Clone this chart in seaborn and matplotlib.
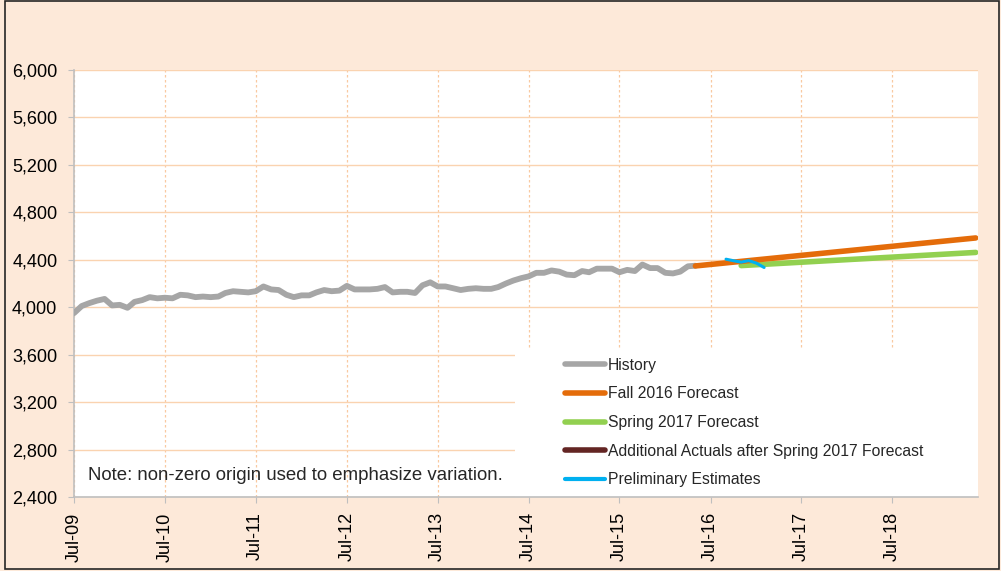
import pandas as pd
import matplotlib
matplotlib.use('Agg')
import matplotlib.pyplot as plt
import matplotlib.dates as mdates
from matplotlib.lines import Line2D
from matplotlib.patches import Rectangle
from matplotlib.ticker import FuncFormatter
import seaborn as sns

# history, monthly from Jul-09 to May-16
history_start = '2009-07-01'
history_values = [
    3950, 4010, 4035, 4055, 4070, 4015, 4020, 3995, 4045, 4060, 4085, 4075,
    4080, 4075, 4105, 4100, 4085, 4090, 4085, 4090, 4120, 4135, 4130, 4125,
    4135, 4175, 4150, 4145, 4105, 4085, 4100, 4100, 4125, 4145, 4135, 4140,
    4180, 4150, 4150, 4150, 4155, 4170, 4125, 4130, 4130, 4120, 4185, 4210,
    4175, 4175, 4160, 4145, 4155, 4160, 4155, 4155, 4170, 4200, 4225, 4245,
    4260, 4290, 4290, 4310, 4300, 4275, 4270, 4305, 4295, 4325, 4325, 4325,
    4295, 4315, 4305, 4360, 4330, 4330, 4290, 4285, 4300, 4345, 4350,
]

fall16_dates = ['2016-05-01', '2019-06-01']
fall16_values = [4348, 4584]

spring17_dates = ['2016-11-01', '2019-06-01']
spring17_values = [4351, 4462]

prelim_dates = ['2016-09-01', '2016-10-01', '2016-11-01', '2016-12-01', '2017-01-01', '2017-02-01']
prelim_values = [4405, 4392, 4380, 4393, 4372, 4335]

labels = ['History', 'Fall 2016 Forecast', 'Spring 2017 Forecast',
          'Additional Actuals after Spring 2017 Forecast', 'Preliminary Estimates']
colors = ['#A6A6A6', '#E46C0A', '#92D050', '#632523', '#00B0F0']

yticks = [2400, 2800, 3200, 3600, 4000, 4400, 4800, 5200, 5600, 6000]
note = 'Note: non-zero origin used to emphasize variation.'

hist = pd.DataFrame({'date': pd.date_range(history_start, periods=len(history_values), freq='MS'),
                     'value': history_values})
fall = pd.DataFrame({'date': pd.to_datetime(fall16_dates), 'value': fall16_values})
spring = pd.DataFrame({'date': pd.to_datetime(spring17_dates), 'value': spring17_values})
prelim = pd.DataFrame({'date': pd.to_datetime(prelim_dates), 'value': prelim_values})

sns.set_style('white')
plt.rcParams['font.family'] = ['Liberation Sans', 'DejaVu Sans']

bg = '#FDE9D9'
fig = plt.figure(figsize=(10.01, 5.71), dpi=100, facecolor=bg)
ax = fig.add_axes([0.0739, 0.1296, 0.9031, 0.7478])
ax.set_facecolor('white')

sns.lineplot(data=hist, x='date', y='value', ax=ax, color=colors[0], linewidth=4.2, zorder=3)
sns.lineplot(data=fall, x='date', y='value', ax=ax, color=colors[1], linewidth=4.0, zorder=4,
             solid_capstyle='round')
sns.lineplot(data=spring, x='date', y='value', ax=ax, color=colors[2], linewidth=4.0, zorder=3,
             solid_capstyle='round')
sns.lineplot(data=prelim, x='date', y='value', ax=ax, color=colors[4], linewidth=2.2, zorder=5)

ax.set_ylim(2400, 6000)
ax.set_xlim(pd.Timestamp('2009-07-01'), pd.Timestamp('2019-06-10'))
ax.set_yticks(yticks)
ax.yaxis.set_major_formatter(FuncFormatter(lambda v, p: f'{int(v):,}'))
ax.xaxis.set_major_locator(mdates.MonthLocator(bymonth=7))
ax.xaxis.set_major_formatter(mdates.DateFormatter('%b-%y'))
ax.set_xlabel('')
ax.set_ylabel('')

ax.set_axisbelow(True)
ax.grid(axis='y', color='#FAD3B0', linewidth=1.0, linestyle='-')
ax.grid(axis='x', color='#F9C9A0', linewidth=0.9, linestyle=(0, (2, 2)))

for s in ['top', 'right']:
    ax.spines[s].set_visible(False)
for s in ['left', 'bottom']:
    ax.spines[s].set_color('#BFBFBF')
    ax.spines[s].set_linewidth(1.2)
ax.tick_params(axis='both', direction='out', length=4, color='#BFBFBF', labelsize=13.1,
               labelcolor='black', bottom=True, left=True)
ax.tick_params(axis='y', pad=8)
ax.tick_params(axis='x', labelrotation=90, pad=7)

# white box behind legend
ax.add_patch(Rectangle((0.488, 0.0), 0.512, 0.344, transform=ax.transAxes,
                       facecolor='white', edgecolor='none', zorder=2))

handles = [Line2D([], [], color=c, linewidth=4 if i < 4 else 3, solid_capstyle='round')
           for i, c in enumerate(colors)]
ax.legend(handles, labels, loc='upper left', bbox_to_anchor=(0.543, 0.326), frameon=False,
          fontsize=11.3, handlelength=2.55, handletextpad=0.2, labelspacing=0.87, borderpad=0,
          borderaxespad=0)

ax.text(0.0155, 0.0515, note, transform=ax.transAxes, fontsize=13.4, va='center', ha='left', zorder=6)

fig.patches.append(Rectangle((0.005, 0.004), 0.993, 0.994, transform=fig.transFigure,
                             facecolor='none', edgecolor='#262626', linewidth=1.2))

fig.savefig('out.png', dpi=100, facecolor=bg)
